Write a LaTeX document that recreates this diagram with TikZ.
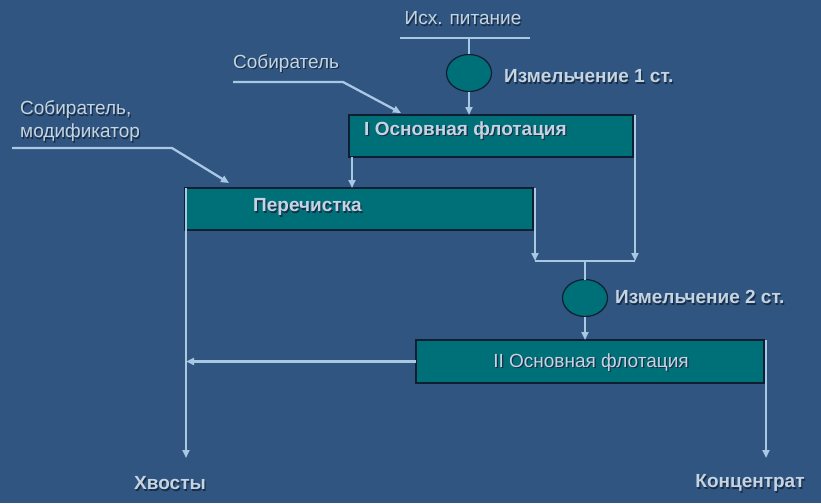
\documentclass[tikz,border=0pt]{standalone}
\usepackage{fontspec}
\setmainfont{Liberation Sans}
\usetikzlibrary{arrows.meta,shapes.geometric,calc}
\definecolor{bgc}{RGB}{47,85,128}
\definecolor{boxc}{RGB}{0,112,120}
\definecolor{linec}{RGB}{168,200,228}
\definecolor{txtc}{RGB}{196,212,226}
\definecolor{shadowc}{RGB}{25,45,70}
\definecolor{edgec}{RGB}{15,30,50}
\newcommand\shtx[1]{\leavevmode\rlap{\kern1.2pt\raisebox{-1.2pt}{\textcolor{shadowc}{#1}}}#1}
\tikzset{
  flow/.style={draw=linec,line width=2.3pt},
  arr/.style={flow,-{Triangle[length=8pt,width=7pt]}},
  procbox/.style={draw=edgec,line width=1.2pt,fill=boxc,minimum height=42pt,inner sep=0pt,outer sep=0pt},
  mill/.style={ellipse,draw=edgec,line width=1.2pt,fill=boxc,minimum width=45pt,minimum height=37pt,inner sep=0pt,outer sep=0pt},
  lbl/.style={text=txtc,font=\fontsize{19}{22}\selectfont,inner sep=0pt},
  blbl/.style={lbl,font=\fontsize{19}{22}\selectfont\bfseries},
}
\begin{document}
\begin{tikzpicture}[x=1pt,y=-1pt]
\fill[bgc] (0,0) rectangle (821,503);
\useasboundingbox (0,0) rectangle (821,503);

% feed
\node[lbl] (feed) at (463,19) {\shtx{Исх. питание}};
\coordinate (feedL) at (400,38);
\coordinate (feedR) at (530,38);
\coordinate (feedM) at (469,38);
\draw[flow] (feedL) -- (feedR);

% mill 1
\node[mill] (mill1) at (469,73) {};
\node[blbl,anchor=west] (mill1t) at (504,77) {\shtx{Измельчение 1 ст.}};
\draw[flow] (feedM) -- (mill1.north);

% flotation I
\node[procbox,minimum width=284pt,anchor=north west] (flot1) at (349,115) {};
\node[blbl,anchor=west] (flot1t) at (364,131) {\shtx{I Основная флотация}};
\draw[arr] (mill1.south) -- (mill1.south |- flot1.north);

% cleaner
\node[procbox,minimum width=348pt,anchor=north west] (clean) at (185,188) {};
\node[blbl,anchor=west] (cleant) at (253,208) {\shtx{Перечистка}};
\coordinate (f1d) at (352,157);
\draw[arr] (f1d) -- (f1d |- clean.north);

% collectors
\node[lbl,anchor=west] (col1) at (233,64) {\shtx{Собиратель}};
\coordinate (c1a) at (233,82);
\coordinate (c1b) at (343,82);
\coordinate (c1c) at (401,113);
\draw[arr] (c1a) -- (c1b) -- (c1c);

\node[lbl,anchor=west,align=left] (col2) at (20,122) {\shtx{Собиратель,}\\[1pt]\shtx{модификатор}};
\coordinate (c2a) at (12,148);
\coordinate (c2b) at (172,148);
\coordinate (c2c) at (229,183);
\draw[arr] (c2a) -- (c2b) -- (c2c);

% junction
\coordinate (jL) at (535,261);
\coordinate (jR) at (635,261);
\coordinate (jM) at (585,261);
\draw[arr] (jL |- clean.north) -- (jL);
\draw[arr] (jR |- flot1.north) -- (jR);
\draw[flow] (jL) -- (jR);

% mill 2
\node[mill] (mill2) at (585,298) {};
\node[blbl,anchor=west] (mill2t) at (615,298) {\shtx{Измельчение 2 ст.}};
\draw[flow] (jM) -- (mill2.north);

% flotation II
\node[procbox,minimum width=348pt,minimum height=43pt,anchor=north west] (flot2) at (416,340) {};
\node[lbl] (flot2t) at (591,363) {\shtx{II Основная флотация}};
\draw[arr] (mill2.south) -- (mill2.south |- flot2.north);

% outputs
\node[blbl] (tail) at (170,484) {\shtx{Хвосты}};
\node[blbl] (conc) at (750,484) {\shtx{Концентрат}};
\coordinate (tailE) at (186,458);
\coordinate (concE) at (766,458);
\draw[arr] (tailE |- clean.north) -- (tailE);
\draw[arr] (flot2.west) -- (flot2.west -| tailE);
\draw[arr] (concE |- flot2.north) -- (concE);
\end{tikzpicture}
\end{document}
